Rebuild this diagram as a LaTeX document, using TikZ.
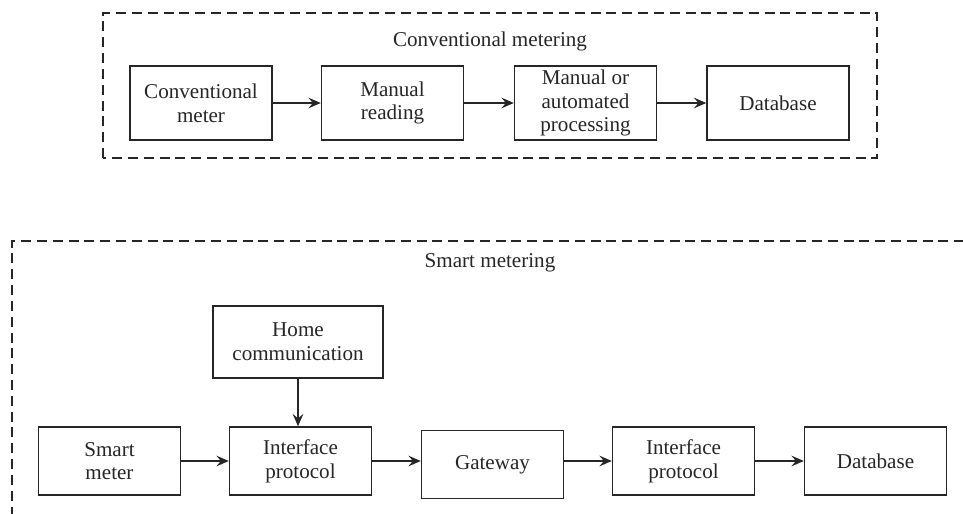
\documentclass[tikz,border=0pt]{standalone}
\usepackage{fontspec}
\setmainfont{Liberation Serif}
\usepackage{tikz}
\usetikzlibrary{arrows.meta,positioning,calc}

\begin{document}
\begin{tikzpicture}[
  box/.style={rectangle,draw=black!85,line width=0.8pt,minimum width=2.84cm,
              minimum height=1.48cm,inner ysep=1pt,align=center,
              font=\fontsize{12}{13.5}\selectfont,text=black!85},
  lowbox/.style={box,minimum height=1.36cm},
  frame/.style={draw=black!85,line width=1.6pt,dash pattern=on 5.7pt off 3.3pt},
  title/.style={font=\fontsize{12}{13.5}\selectfont,text=black!85},
  arrow/.style={-{Stealth[length=7pt,width=6pt,inset=2.5pt]},draw=black!85,line width=0.8pt}
]
\useasboundingbox (0,0) rectangle (19.26,10.28);
\clip (0,0) rectangle (19.26,10.28);

% conventional metering
\draw[frame] (2.06,7.12) rectangle (17.54,10.02);
\node[title] (convtitle) at (9.80,9.46) {Conventional metering};
\node[box] (convmeter) at (4.02,8.22)  {Conventional\\meter};
\node[box] (manread)   at (7.85,8.22)  {Manual\\reading};
\node[box] (process)   at (11.71,8.22) {Manual or\\automated\\processing};
\node[box] (convdb)    at (15.56,8.22) {Database};

\draw[arrow] (convmeter) -- (manread);
\draw[arrow] (manread) -- (process);
\draw[arrow] (process) -- (convdb);

% smart metering
\draw[frame] (0.24,-1) rectangle (20.5,5.46);
\node[title] (smarttitle) at (9.80,5.02) {Smart metering};
\node[box,minimum width=3.4cm,minimum height=1.44cm] (homecom) at (5.96,3.44) {Home\\communication};
\node[lowbox] (smartmeter) at (2.19,1.06)  {Smart\\meter};
\node[lowbox] (iface)      at (6.01,1.06)  {Interface\\protocol};
\node[lowbox] (gateway)    at (9.85,0.99)  {Gateway};
\node[lowbox] (ifacetwo)   at (13.67,1.06) {Interface\\protocol};
\node[lowbox] (smartdb)    at (17.51,1.06) {Database};

\draw[arrow] (homecom.south) -- (homecom.south |- iface.north);
\draw[arrow] (smartmeter) -- (iface);
\draw[arrow] (iface.east) -- (iface.east -| gateway.west);
\draw[arrow] (gateway.east |- ifacetwo.west) -- (ifacetwo.west);
\draw[arrow] (ifacetwo) -- (smartdb);
\end{tikzpicture}
\end{document}
